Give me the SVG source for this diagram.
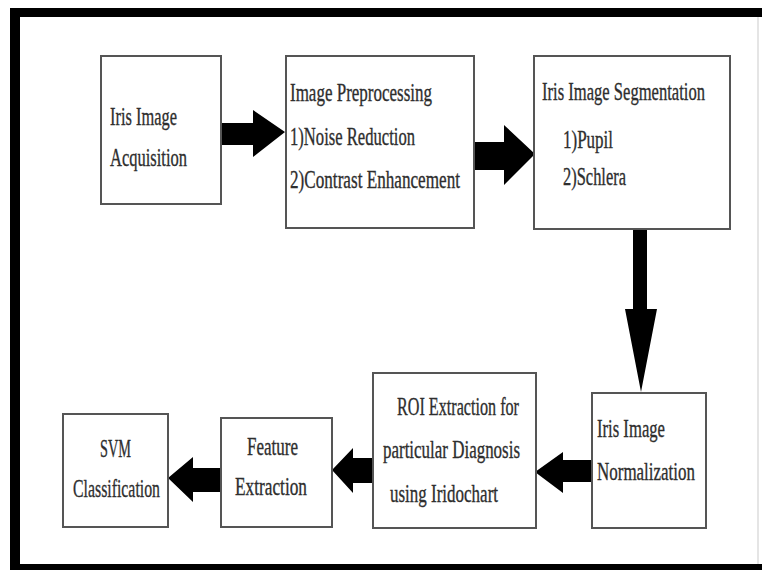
<svg xmlns="http://www.w3.org/2000/svg" width="762" height="570" viewBox="0 0 762 570">
<style>
.box{fill:#fff;stroke:#555;stroke-width:2}
.t{font-family:"Liberation Serif","Times New Roman",serif;font-size:26px;fill:#2e2e2e;stroke:#2e2e2e;stroke-width:0.35}
.arr{fill:#000}
</style>
<rect x="0" y="0" width="762" height="570" fill="#fff"/>
<g id="frame">
<rect x="10" y="8" width="752" height="9" fill="#000"/>
<rect x="10" y="8" width="10" height="562" fill="#000"/>
<rect x="10" y="564" width="752" height="6" fill="#000"/>
<line x1="758" y1="17" x2="758" y2="564" stroke="#ddd" stroke-width="1.5"/>
</g>
<g id="connectors">
<polygon class="arr" points="221,123 253,123 253,110 285,132 253,157 253,145 221,145"/>
<polygon class="arr" points="474,142 504,142 504,125 535,154 504,185 504,170 474,170"/>
<polygon class="arr" points="633,229 647,229 647,309 657,309 641,392 625,309 633,309"/>
<polygon class="arr" points="592,460 563,460 563,452 535,472 563,493 563,482 592,482"/>
<polygon class="arr" points="373,458 353,458 353,448 332,470 353,493 353,483 373,483"/>
<polygon class="arr" points="221,468 193,468 193,457 168,478 193,502 193,492 221,492"/>
</g>
<g id="acquisition">
<rect class="box" x="101" y="56" width="120" height="148"/>
<text class="t" x="110" y="125" textLength="67" lengthAdjust="spacingAndGlyphs">Iris Image</text>
<text class="t" x="110" y="166" textLength="77" lengthAdjust="spacingAndGlyphs">Acquisition</text>
</g>
<g id="preprocessing">
<rect class="box" x="286" y="56" width="188" height="172"/>
<text class="t" x="290" y="101" textLength="142" lengthAdjust="spacingAndGlyphs">Image Preprocessing</text>
<text class="t" x="290" y="145" textLength="125" lengthAdjust="spacingAndGlyphs">1)Noise Reduction</text>
<text class="t" x="290" y="188" textLength="170" lengthAdjust="spacingAndGlyphs">2)Contrast Enhancement</text>
</g>
<g id="segmentation">
<rect class="box" x="534" y="56" width="196" height="173"/>
<text class="t" x="542" y="100" textLength="163" lengthAdjust="spacingAndGlyphs">Iris Image Segmentation</text>
<text class="t" x="563" y="148" textLength="50" lengthAdjust="spacingAndGlyphs">1)Pupil</text>
<text class="t" x="563" y="185" textLength="63" lengthAdjust="spacingAndGlyphs">2)Schlera</text>
</g>
<g id="normalization">
<rect class="box" x="592" y="393" width="114" height="135"/>
<text class="t" x="597" y="437" textLength="68" lengthAdjust="spacingAndGlyphs">Iris Image</text>
<text class="t" x="597" y="480" textLength="98" lengthAdjust="spacingAndGlyphs">Normalization</text>
</g>
<g id="roi">
<rect class="box" x="373" y="373" width="163" height="155"/>
<text class="t" x="397" y="415" textLength="122" lengthAdjust="spacingAndGlyphs">ROI Extraction for</text>
<text class="t" x="383" y="458" textLength="137" lengthAdjust="spacingAndGlyphs">particular Diagnosis</text>
<text class="t" x="390" y="502" textLength="108" lengthAdjust="spacingAndGlyphs">using Iridochart</text>
</g>
<g id="feature">
<rect class="box" x="221" y="418" width="111" height="109"/>
<text class="t" x="247" y="455" textLength="51" lengthAdjust="spacingAndGlyphs">Feature</text>
<text class="t" x="235" y="495" textLength="72" lengthAdjust="spacingAndGlyphs">Extraction</text>
</g>
<g id="svm">
<rect class="box" x="63" y="414" width="105" height="113"/>
<text class="t" x="100" y="457" textLength="31" lengthAdjust="spacingAndGlyphs">SVM</text>
<text class="t" x="73" y="497" textLength="87" lengthAdjust="spacingAndGlyphs">Classification</text>
</g>
</svg>
